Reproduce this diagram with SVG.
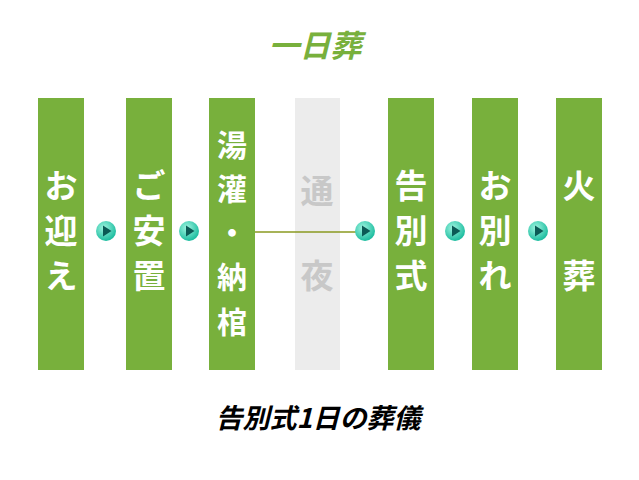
<svg xmlns="http://www.w3.org/2000/svg" width="639" height="480" viewBox="0 0 639 480">
<defs>
<style>
.col{fill:#78b03c}
.gcol{fill:#ececec}
.t{font-family:"Noto Sans CJK JP","Noto Sans CJK SC",sans-serif;font-weight:bold;font-size:33px;fill:#fff;text-anchor:middle}
.s{font-size:30px}
.g{fill:#c8c8c8}
</style>
<radialGradient id="bg" cx="0.4" cy="0.35" r="0.7"><stop offset="0" stop-color="#9ff5e0"/><stop offset="1" stop-color="#12b89a"/></radialGradient>
<g id="btn"><circle r="10" fill="url(#bg)"/><path d="M-3,-5.5 L5.5,0 L-3,5.5Z" fill="#0b5a55"/></g>
</defs>
<rect width="639" height="480" fill="#fff"/>
<text x="315" y="57" font-family="Noto Sans CJK JP,sans-serif" font-size="31" font-weight="bold" font-style="italic" fill="#78b03c" text-anchor="middle">一日葬</text>
<g id="n1"><rect class="col" x="38" y="98" width="46" height="272"/><text class="t" x="61" y="198">お</text><text class="t" x="61" y="243">迎</text><text class="t" x="61" y="288">え</text></g>
<g id="n2"><rect class="col" x="126" y="98" width="46" height="272"/><text class="t" x="149" y="198">ご</text><text class="t" x="149" y="243">安</text><text class="t" x="149" y="288">置</text></g>
<g id="n3"><rect class="col" x="209" y="98" width="46" height="272"/><text class="t s" x="232" y="156">湯</text><text class="t s" x="232" y="200">灌</text><text class="t s" x="232" y="244">・</text><text class="t s" x="232" y="288">納</text><text class="t s" x="232" y="333">棺</text></g>
<g id="n4"><rect class="gcol" x="295" y="98" width="45" height="272"/><text class="t g" x="317" y="203">通</text><text class="t g" x="317" y="288">夜</text></g>
<g id="n5"><rect class="col" x="388" y="98" width="46" height="272"/><text class="t" x="411" y="198">告</text><text class="t" x="411" y="243">別</text><text class="t" x="411" y="288">式</text></g>
<g id="n6"><rect class="col" x="472" y="98" width="46" height="272"/><text class="t" x="495" y="198">お</text><text class="t" x="495" y="243">別</text><text class="t" x="495" y="288">れ</text></g>
<g id="n7"><rect class="col" x="556" y="98" width="46" height="272"/><text class="t" x="579" y="198">火</text><text class="t" x="579" y="288">葬</text></g>
<g id="connectors">
<line x1="255" y1="232" x2="356" y2="232" stroke="#8a9a20" stroke-width="1.5"/>
<use href="#btn" x="106" y="231"/>
<use href="#btn" x="189" y="231"/>
<use href="#btn" x="365" y="231"/>
<use href="#btn" x="455" y="231"/>
<use href="#btn" x="538" y="231"/>
</g>
<text x="318" y="428" font-family="Noto Sans CJK JP,sans-serif" font-size="27" font-weight="bold" font-style="italic" fill="#000" text-anchor="middle">告別式1日の葬儀</text>
</svg>
